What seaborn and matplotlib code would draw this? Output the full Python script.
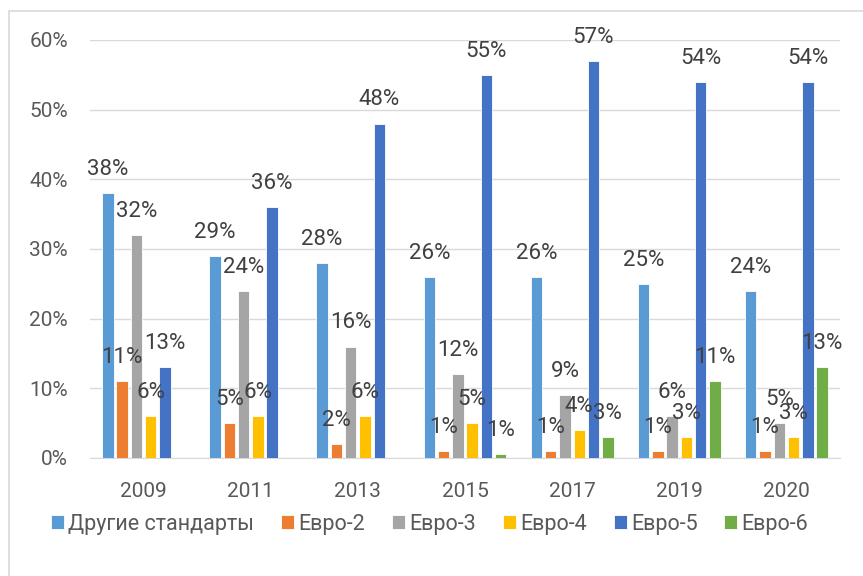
import numpy as np
import pandas as pd
import matplotlib
matplotlib.use("Agg")
import matplotlib.pyplot as plt
import seaborn as sns
from matplotlib.patches import Rectangle

years = ["2009", "2011", "2013", "2015", "2017", "2019", "2020"]
series = ["Другие стандарты", "Евро-2", "Евро-3", "Евро-4", "Евро-5", "Евро-6"]
drugie = [38, 29, 28, 26, 26, 25, 24]
euro2 = [11, 5, 2, 1, 1, 1, 1]
euro3 = [32, 24, 16, 12, 9, 6, 5]
euro4 = [6, 6, 6, 5, 4, 3, 3]
euro5 = [13, 36, 48, 55, 57, 54, 54]
euro6 = [np.nan, np.nan, np.nan, 0.5, 3, 11, 13]
colors = ["#5B9BD5", "#ED7D31", "#A5A5A5", "#FFC000", "#4472C4", "#70AD47"]

df = pd.DataFrame({"year": years, series[0]: drugie, series[1]: euro2,
                   series[2]: euro3, series[3]: euro4, series[4]: euro5,
                   series[5]: euro6})
long = df.melt(id_vars="year", var_name="standard", value_name="share").dropna()

sns.set_style("white")
plt.rcParams["font.family"] = ["Roboto", "DejaVu Sans"]

fig = plt.figure(figsize=(8.63, 5.76), dpi=100)
ax = fig.add_axes([0.1043, 0.2049, 0.869, 0.7257])

sns.barplot(data=long, x="year", y="share", hue="standard", order=years,
            hue_order=series, palette=colors, saturation=1, width=0.8, gap=0.2,
            edgecolor="white", linewidth=0.6, ax=ax, zorder=3)

# data labels, rounded half up like excel
for cont in ax.containers:
    labels = [f"{int(v + 0.5)}%" for v in cont.datavalues]
    ax.bar_label(cont, labels=labels, padding=9.5, fontsize=16, color="#404040")

ax.set_ylim(0, 60)
ax.set_xlim(-0.5, 6.5)
ax.set_yticks(range(0, 61, 10))
ax.set_yticklabels([f"{t}%" for t in range(0, 61, 10)])
ax.grid(axis="y", color="#D9D9D9", linewidth=1, zorder=0)
ax.set_axisbelow(True)
for s in ["top", "right", "left"]:
    ax.spines[s].set_visible(False)
ax.spines["bottom"].set_color("#D9D9D9")
ax.tick_params(axis="y", length=0, pad=16, labelsize=15, labelcolor="#595959")
ax.tick_params(axis="x", length=0, pad=17, labelsize=15, labelcolor="#595959")
ax.set_xlabel("")
ax.set_ylabel("")

ax.legend(loc="center", bbox_to_anchor=(0.498, 0.09), bbox_transform=fig.transFigure,
          ncol=6, frameon=False, fontsize=15.5, handlelength=0.6, handleheight=0.6,
          handletextpad=0.2, columnspacing=1.25, labelcolor="#595959")

fig.patches.append(Rectangle((9 / 863, -0.1), 1.2, 1 - 11 / 576 + 0.1,
                             transform=fig.transFigure, fill=False,
                             edgecolor="#D9D9D9", linewidth=1.2))

fig.savefig("out.png", dpi=100)
